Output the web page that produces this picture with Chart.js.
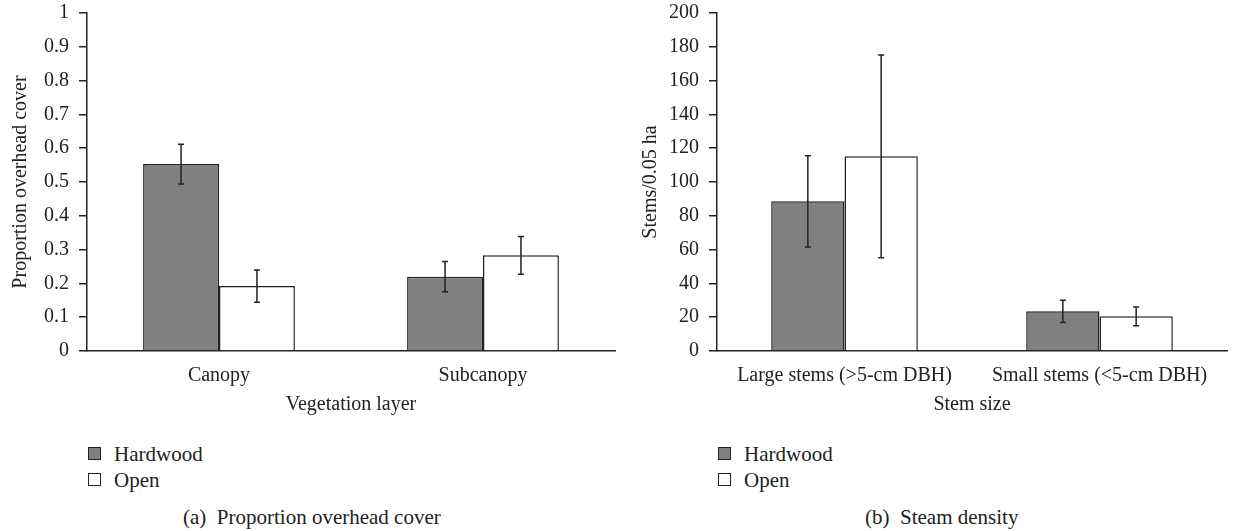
<!DOCTYPE html>
<html>
<head>
<meta charset="utf-8">
<script src="https://cdn.jsdelivr.net/npm/chart.js@4.4.0/dist/chart.umd.min.js"></script>
<style>
    body { margin: 0; background: #fff; width: 1242px; height: 531px; position: relative; overflow: hidden; font-family: "Liberation Serif", serif; color: #222; }
    .panel { position: absolute; top: 0; }
    .legend { position: absolute; font-size: 21px; line-height: 26px; }
    .legend div { position: relative; padding-left: 26px; white-space: nowrap; }
    .legend span { position: absolute; left: 0; top: 6px; width: 11px; height: 11px; border: 1.5px solid #222; }
    .caption { position: absolute; top: 505px; font-size: 21px; white-space: pre; }
</style>
</head>
<body>
<div class="panel" style="left:0"><canvas id="coverChart" width="630" height="420"></canvas></div>
<div class="panel" style="left:630px"><canvas id="stemChart" width="612" height="420"></canvas></div>

<div class="legend" style="left:88px; top:441px">
    <div><span style="background:#808080"></span>Hardwood</div>
    <div><span style="background:#fff"></span>Open</div>
</div>
<div class="legend" style="left:718px; top:441px">
    <div><span style="background:#808080"></span>Hardwood</div>
    <div><span style="background:#fff"></span>Open</div>
</div>
<div class="caption" style="left:183px">(a)  Proportion overhead cover</div>
<div class="caption" style="left:865px">(b)  Steam density</div>

<script>
// (a) overhead cover
const layers = ['Canopy', 'Subcanopy'];
const coverHardwood = [0.553, 0.220];
const coverHardwoodErr = [0.059, 0.045];
const coverOpen = [0.192, 0.283];
const coverOpenErr = [0.048, 0.056];

// (b) stem density
const stemSizes = ['Large stems (>5-cm DBH)', 'Small stems (<5-cm DBH)'];
const stemsHardwood = [88.6, 23.5];
const stemsHardwoodErr = [27, 6.6];
const stemsOpen = [115.2, 20.5];
const stemsOpenErr = [60, 5.6];

const ink = '#222';
const font = { family: '"Liberation Serif", serif', size: 20 };

// error bars drawn from dataset.errors through the y scale
const errorBars = {
    id: 'errorBars',
    afterDatasetsDraw(chart) {
        const ctx = chart.ctx;
        const yScale = chart.scales.y;
        ctx.save();
        ctx.strokeStyle = ink;
        ctx.lineWidth = 1.5;
        chart.data.datasets.forEach((ds, i) => {
            chart.getDatasetMeta(i).data.forEach((bar, j) => {
                const v = ds.data[j];
                const e = ds.errors[j];
                const top = yScale.getPixelForValue(v + e);
                const bot = yScale.getPixelForValue(v - e);
                ctx.beginPath();
                ctx.moveTo(bar.x, top);
                ctx.lineTo(bar.x, bot);
                ctx.moveTo(bar.x - 3, top);
                ctx.lineTo(bar.x + 3, top);
                ctx.moveTo(bar.x - 3, bot);
                ctx.lineTo(bar.x + 3, bot);
                ctx.stroke();
            });
        });
        ctx.restore();
    }
};

function makeChart(id, labels, hw, hwErr, op, opErr, yMax, yStep, yTitle, xTitle) {
    return new Chart(document.getElementById(id), {
        type: 'bar',
        data: {
            labels: labels,
            datasets: [
                {
                    label: 'Hardwood',
                    data: hw,
                    errors: hwErr,
                    backgroundColor: '#808080',
                    borderColor: ink,
                    borderWidth: 1.5
                },
                {
                    label: 'Open',
                    data: op,
                    errors: opErr,
                    backgroundColor: '#ffffff',
                    borderColor: ink,
                    borderWidth: 1.5
                }
            ]
        },
        options: {
            responsive: false,
            animation: false,
            categoryPercentage: 0.575,
            barPercentage: 1,
            layout: { padding: { top: 13, right: 15, bottom: 0, left: 0 } },
            plugins: {
                legend: { display: false },
                tooltip: { enabled: false }
            },
            scales: {
                x: {
                    grid: { display: false, drawTicks: false },
                    border: { display: true, color: ink, width: 1.5 },
                    ticks: { color: ink, font: font, padding: 13, maxRotation: 0 },
                    title: { display: true, text: xTitle, color: ink, font: font, padding: { top: 0, bottom: 3 } },
                    afterFit: (s) => { s.height = 69; }
                },
                y: {
                    min: 0,
                    max: yMax,
                    ticks: {
                        stepSize: yStep, color: ink, font: font, padding: 10,
                        callback: (v) => String(Math.round(v * 10) / 10)
                    },
                    grid: { drawOnChartArea: false, drawTicks: true, tickLength: 8, color: ink, lineWidth: 1.5 },
                    border: { display: true, color: ink, width: 1.5 },
                    title: { display: true, text: yTitle, color: ink, font: font, padding: { top: 9, bottom: 0 } },
                    afterFit: (s) => { s.width = 87; s.paddingTop = 0; s.paddingBottom = 0; }
                }
            }
        },
        plugins: [errorBars]
    });
}

makeChart('coverChart', layers, coverHardwood, coverHardwoodErr, coverOpen, coverOpenErr,
    1, 0.1, 'Proportion overhead cover', 'Vegetation layer');
makeChart('stemChart', stemSizes, stemsHardwood, stemsHardwoodErr, stemsOpen, stemsOpenErr,
    200, 20, 'Stems/0.05 ha', 'Stem size');
</script>
</body>
</html>
